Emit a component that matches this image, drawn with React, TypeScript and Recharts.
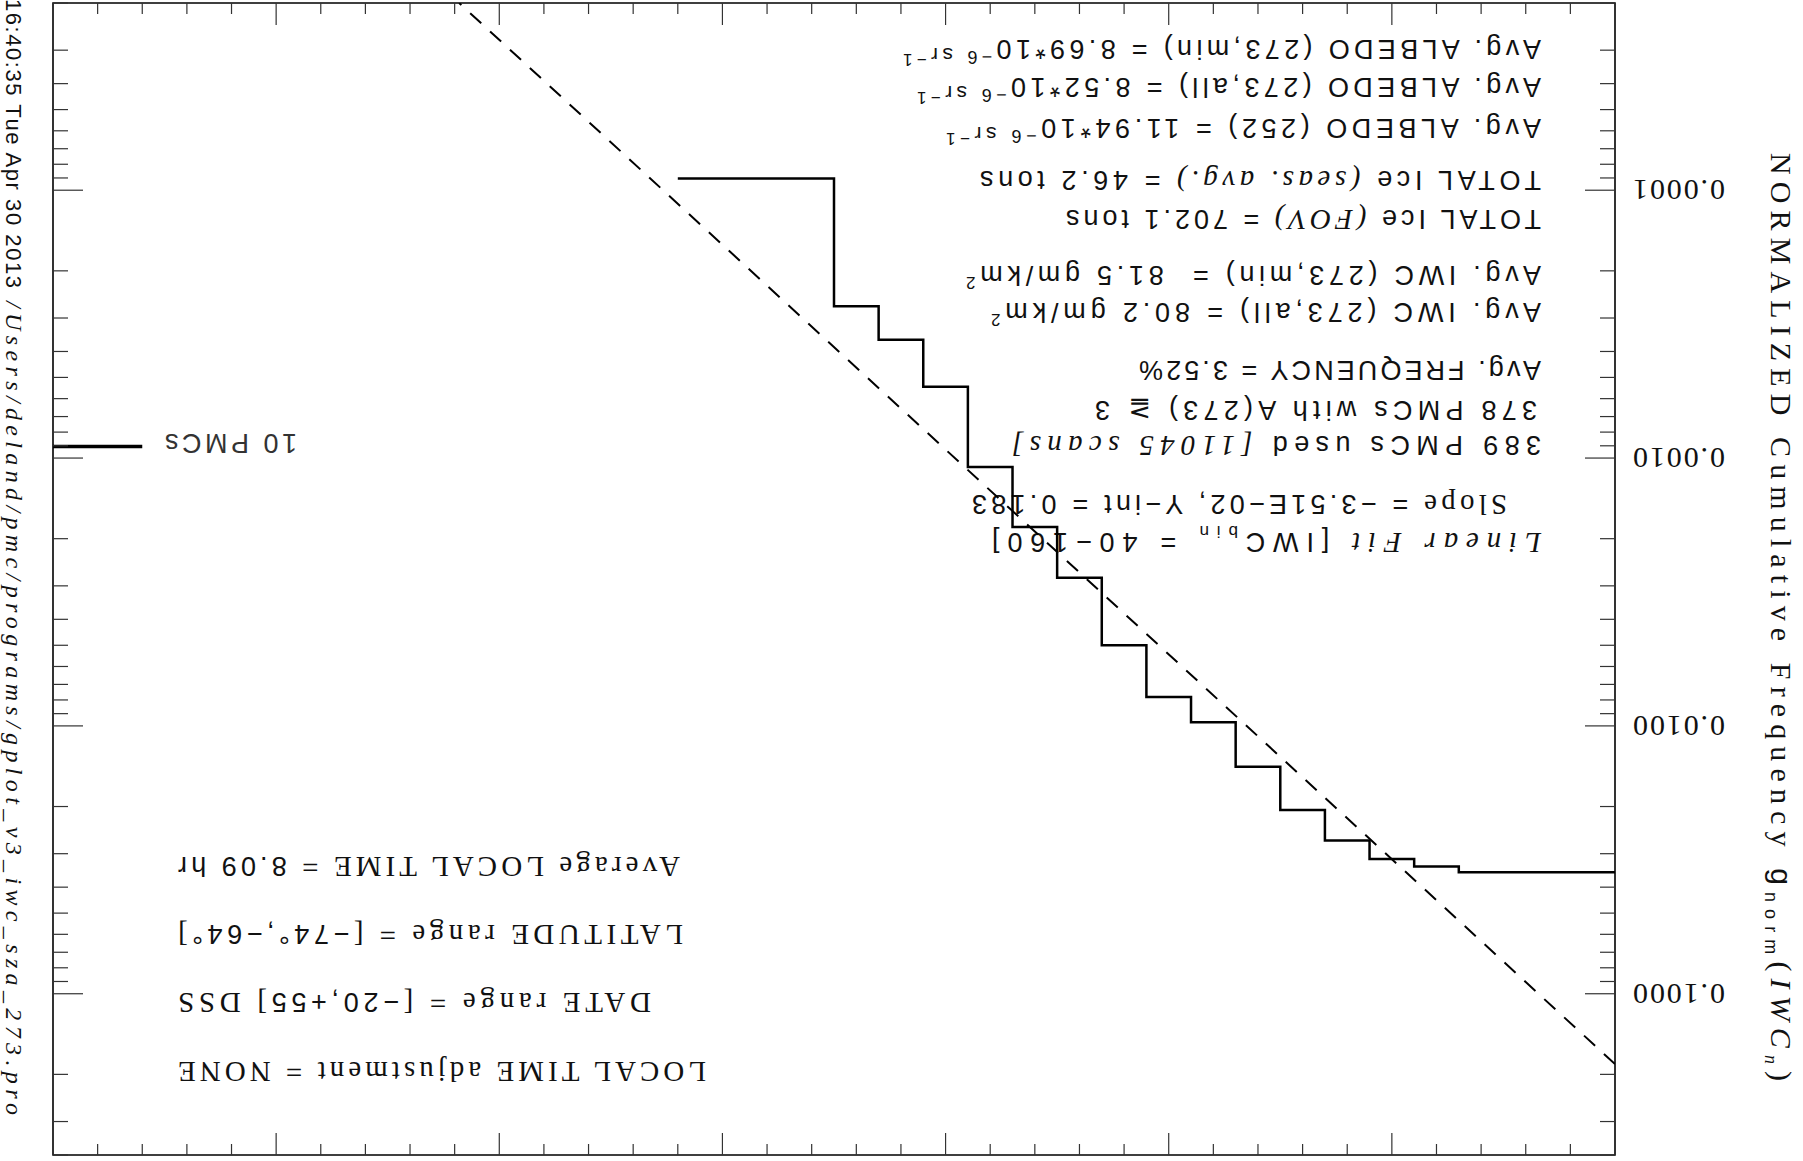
import React from 'react';
import { ComposedChart, Line, XAxis, YAxis, ReferenceArea, ReferenceLine } from 'recharts';

// ---------- data ----------
// IWC bin edges (step positions) and normalized cumulative frequency
const iwcEdges = [0, 35, 45, 55, 65, 75, 85, 95, 105, 115, 125, 135, 145, 155, 165, 175, 210];
const cumFreq = [0.0352, 0.0335, 0.0314, 0.0268, 0.0206, 0.0142, 0.0097, 0.0078, 0.0050, 0.0028, 0.00181, 0.00108, 0.000542, 0.000362, 0.000271, 0.0000905, 0.0000905];
// linear fit line (endpoints)
const fitIwc = [0, 259];
const fitFreq = [0.183, 0.00002];
// "10 PMCs" marker
const pmcMarkIwc = [330, 350];
const pmcMarkFreq = 0.000905;
// axes
const xDomain = [0, 350];
const yDomain = [0.00002, 0.4];
const xTickValues = [0, 10, 20, 30, 40, 50, 60, 70, 80, 90, 100, 110, 120, 130, 140, 150, 160, 170, 180, 190, 200, 210, 220, 230, 240, 250, 260, 270, 280, 290, 300, 310, 320, 330, 340, 350];
const xMajorStep = 50;
const yDecades = [0.00001, 0.0001, 0.001, 0.01, 0.1];
const yFactors = [1, 2, 3, 4, 5, 6, 7, 8, 9];

const stepData = iwcEdges.map((x, i) => ({ x, y: cumFreq[i] }));
const fitData = fitIwc.map((x, i) => ({ x, y: fitFreq[i] }));
const yTicks: number[] = [];
yDecades.forEach((d) => yFactors.forEach((m) => {
  const v = d * m;
  if (v >= yDomain[0] * 0.999 && v <= yDomain[1] * 1.001) yTicks.push(v);
}));

// ---------- layout ----------
const W = 1803;
const H = 1230;
const PL = 188;
const PR = 1750;
const PT = 6;
const PB = 1158;
const TICK = '#333';
const SANS = "'Liberation Sans', Arial, sans-serif";
const SERIF = "'Liberation Serif', 'Times New Roman', serif";

const YTick = (props: any) => {
  const { y, payload } = props;
  const v = payload.value;
  const lg = Math.log10(v);
  const major = Math.abs(lg - Math.round(lg)) < 1e-6;
  const len = major ? 30 : 15;
  return (
    <g>
      <line x1={PL} x2={PL + len} y1={y} y2={y} stroke={TICK} strokeWidth={1.2} />
      <line x1={PR} x2={PR - len} y1={y} y2={y} stroke={TICK} strokeWidth={1.2} />
      {major && (
        <text x={PL - 18} y={y + 10} textAnchor="end" fontFamily={SERIF} fontSize={30} textLength={92} lengthAdjust="spacing" fill="#111">
          {v.toFixed(4)}
        </text>
      )}
    </g>
  );
};

const XTick = (props: any) => {
  const { x, payload } = props;
  const major = payload.value % xMajorStep === 0;
  const len = major ? 22 : 11;
  return (
    <g>
      <line x1={x} x2={x} y1={PB} y2={PB - len} stroke={TICK} strokeWidth={1.2} />
      <line x1={x} x2={x} y1={PT} y2={PT + len} stroke={TICK} strokeWidth={1.2} />
    </g>
  );
};

const pre = { whiteSpace: 'pre' as const };

const renderAnnotations = () => (
  <g fill="#111">
    {/* block of statistics (left-aligned) */}
    <g fontFamily={SANS} fontSize={27}>
      <text x={262} y={628} textLength={549} lengthAdjust="spacing" style={pre}>
        <tspan fontFamily={SERIF} fontStyle="italic" fontSize={29}>Linear Fit </tspan>[IWC<tspan fontSize={17} dy={7}>bin</tspan><tspan dy={-7}> = 40−160]</tspan>
      </text>
      <text x={296} y={666} textLength={535} lengthAdjust="spacing" style={pre}>
        <tspan fontFamily={SERIF} fontSize={29}>Slope</tspan> = −3.51E−02, Y−int = 0.183
      </text>
      <text x={262} y={725} textLength={529} lengthAdjust="spacing" style={pre}>
        389 PMCs used <tspan fontFamily={SERIF} fontStyle="italic" fontSize={29}>[11045 scans]</tspan>
      </text>
      <text x={266} y={760} textLength={442} lengthAdjust="spacing" style={pre}>
        378 PMCs with A(273) ≧ 3
      </text>
      <text x={262} y={800} textLength={402} lengthAdjust="spacing" style={pre}>
        Avg. FREQUENCY = 3.52%
      </text>
      <text x={262} y={858} textLength={550} lengthAdjust="spacing" style={pre}>
        Avg. IWC (273,all) = 80.2 gm/km<tspan fontSize={17} dy={-11}>2</tspan>
      </text>
      <text x={262} y={895} textLength={575} lengthAdjust="spacing" style={pre}>
        Avg. IWC (273,min) =  81.5 gm/km<tspan fontSize={17} dy={-11}>2</tspan>
      </text>
      <text x={262} y={951} textLength={475} lengthAdjust="spacing" style={pre}>
        TOTAL Ice <tspan fontFamily={SERIF} fontStyle="italic" fontSize={29}>(FOV)</tspan> = 702.1 tons
      </text>
      <text x={262} y={990} textLength={561} lengthAdjust="spacing" style={pre}>
        TOTAL Ice <tspan fontFamily={SERIF} fontStyle="italic" fontSize={29}>(seas. avg.)</tspan> = 46.2 tons
      </text>
      <text x={262} y={1042} textLength={595} lengthAdjust="spacing" style={pre}>
        Avg. ALBEDO (252) = 11.94*10<tspan fontSize={18} dy={-11}>−6</tspan><tspan fontSize={21} dy={3}> sr</tspan><tspan fontSize={17} dy={-6}>−1</tspan>
      </text>
      <text x={262} y={1083} textLength={624} lengthAdjust="spacing" style={pre}>
        Avg. ALBEDO (273,all) = 8.52*10<tspan fontSize={18} dy={-11}>−6</tspan><tspan fontSize={21} dy={3}> sr</tspan><tspan fontSize={17} dy={-6}>−1</tspan>
      </text>
      <text x={262} y={1121} textLength={638} lengthAdjust="spacing" style={pre}>
        Avg. ALBEDO (273,min) = 8.69*10<tspan fontSize={18} dy={-11}>−6</tspan><tspan fontSize={21} dy={3}> sr</tspan><tspan fontSize={17} dy={-6}>−1</tspan>
      </text>
    </g>

    {/* selection block (right-aligned) */}
    <g fontFamily={SERIF} fontSize={29} textAnchor="end">
      <text x={1625} y={99} textLength={528} lengthAdjust="spacing" style={pre}>LOCAL TIME adjustment = NONE</text>
      <text x={1625} y={168} textLength={473} lengthAdjust="spacing" style={pre}>
        DATE range = [<tspan fontFamily={SANS} fontSize={27}>−20,+55</tspan>] DSS
      </text>
      <text x={1625} y={236} textLength={505} lengthAdjust="spacing" style={pre}>
        LATITUDE range = [<tspan fontFamily={SANS} fontSize={27}>−74°,−64°</tspan>]
      </text>
      <text x={1625} y={304} textLength={502} lengthAdjust="spacing" style={pre}>
        Average LOCAL TIME = <tspan fontFamily={SANS} fontSize={27}>8.09 hr</tspan>
      </text>
    </g>

    {/* marker label */}
    <text x={1506} y={727} fontFamily={SANS} fontSize={27} fill="#333" textLength={132} lengthAdjust="spacing" style={pre}>10 PMCs</text>

    {/* y-axis title */}
    <text transform="rotate(-90, 32, 544)" x={32} y={544} textAnchor="middle" fontFamily={SERIF} fontSize={30} textLength={928} lengthAdjust="spacing" style={pre}>
      NORMALIZED Cumulative Frequency <tspan fontFamily={SANS}>g</tspan><tspan fontFamily={SANS} fontSize={18} dy={6}>norm</tspan><tspan dy={-6}>(</tspan><tspan fontStyle="italic">IWC</tspan><tspan fontStyle="italic" fontSize={18} dy={6}>n</tspan><tspan dy={-6}>)</tspan>
    </text>

    {/* time stamp and program path */}
    <text transform="rotate(-90, 1797, 1162)" x={1797} y={1162} fontFamily={SANS} fontSize={22} textLength={289} lengthAdjust="spacing" style={pre}>
      16:40:35 Tue Apr 30 2013
    </text>
    <text transform="rotate(-90, 1797, 860)" x={1797} y={860} fontFamily={SERIF} fontStyle="italic" fontSize={24} textLength={814} lengthAdjust="spacing" style={pre}>
      /Users/deland/pmc/programs/gplot_v3_iwc_sza_273.pro
    </text>
  </g>
);

export default function App() {
  return (
    <div
      style={{
        position: 'absolute',
        left: 0,
        top: 0,
        width: 1803,
        height: 1161,
        overflow: 'hidden',
        background: '#fff',
        transform: 'rotate(180deg)',
      }}
    >
      <ComposedChart width={W} height={H} margin={{ top: PT, right: W - PR, bottom: H - PB - 40, left: PL - 150 }}>
        <XAxis
          xAxisId="x"
          dataKey="x"
          type="number"
          domain={xDomain}
          allowDataOverflow
          ticks={xTickValues}
          interval={0}
          tick={(p: any) => <XTick {...p} />}
          tickLine={false}
          axisLine={false}
          height={40}
        />
        <YAxis
          yAxisId="y"
          type="number"
          scale="log"
          domain={yDomain}
          allowDataOverflow
          ticks={yTicks}
          interval={0}
          tick={(p: any) => <YTick {...p} />}
          tickLine={false}
          axisLine={false}
          width={150}
        />
        <ReferenceArea
          xAxisId="x"
          yAxisId="y"
          x1={xDomain[0]}
          x2={xDomain[1]}
          y1={yDomain[0]}
          y2={yDomain[1]}
          fill="none"
          fillOpacity={0}
          stroke="#000"
          strokeWidth={1.6}
          ifOverflow="visible"
          label={renderAnnotations}
        />
        <ReferenceLine
          xAxisId="x"
          yAxisId="y"
          segment={[{ x: pmcMarkIwc[0], y: pmcMarkFreq }, { x: pmcMarkIwc[1], y: pmcMarkFreq }]}
          stroke="#000"
          strokeWidth={3.5}
          ifOverflow="visible"
        />
        <Line
          xAxisId="x"
          yAxisId="y"
          data={fitData}
          dataKey="y"
          type="linear"
          stroke="#000"
          strokeWidth={2}
          strokeDasharray="15 12"
          dot={false}
          activeDot={false}
          isAnimationActive={false}
        />
        <Line
          xAxisId="x"
          yAxisId="y"
          data={stepData}
          dataKey="y"
          type="stepAfter"
          stroke="#000"
          strokeWidth={2.5}
          dot={false}
          activeDot={false}
          isAnimationActive={false}
        />
      </ComposedChart>
    </div>
  );
}
